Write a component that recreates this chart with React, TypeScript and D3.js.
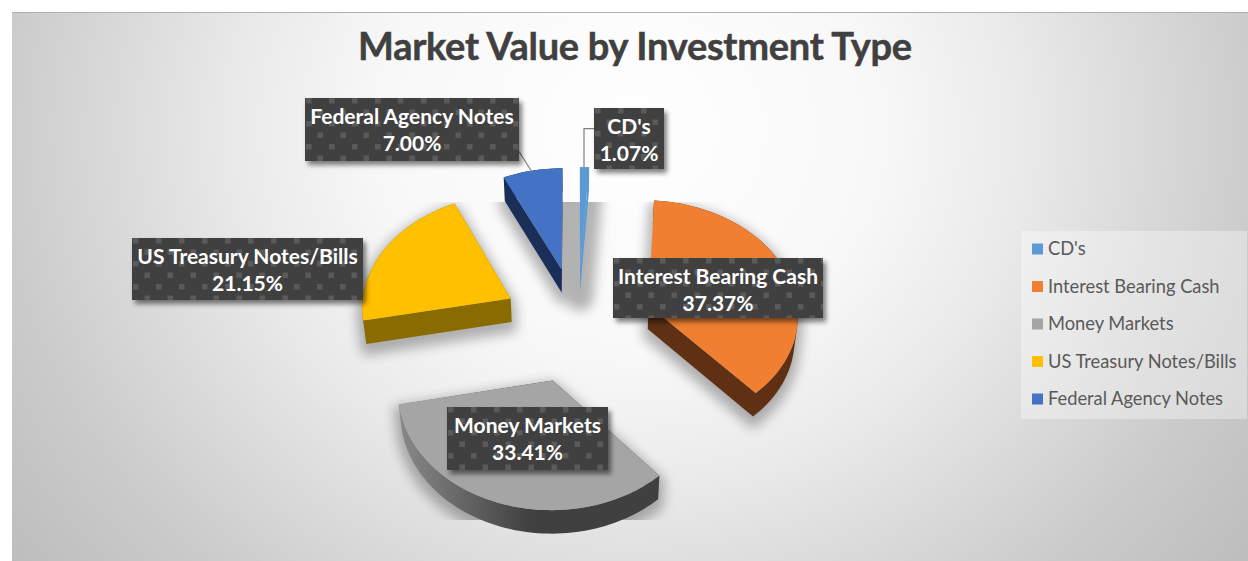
import React from 'react';
import * as d3 from 'd3';

const categories = ["CD's", 'Interest Bearing Cash', 'Money Markets', 'US Treasury Notes/Bills', 'Federal Agency Notes'];
const values = [1.07, 37.37, 33.41, 21.15, 7.0];
const topColors = ['#5b9bd5', '#f07f31', '#a5a5a5', '#ffc000', '#4472c4'];
const sideColors = ['#5b9bd5', '#5f3013', 'url(#moneySide)', '#8a6b00', '#1b2e57'];
const title = 'Market Value by Investment Type';
const labelBoxes = [
  { x: 594, y: 108, w: 70, h: 61 },
  { x: 613, y: 258, w: 210, h: 60 },
  { x: 447, y: 407, w: 161, h: 63 },
  { x: 132, y: 238, w: 231, h: 62 },
  { x: 305, y: 98, w: 214, h: 63 },
];
const paintOrder = [4, 0, 3, 1, 2];

const W = 1248, H = 561;
const cx = 577.6, cy = 324, R = 150, explode = 76, tilt = 0.76, persp = 0.00042, depth = 23.5;

const project = (X: number, Y: number) => {
  const s = 1 / (1 - persp * Y);
  return [cx + X * s, cy + Y * tilt * s] as [number, number];
};
const pieGen = d3.pie<number>().sort(null).value((d) => d);
const arcs = pieGen(values);
const line = d3.line();

const outlines = arcs.map((a) => {
  const mid = (a.startAngle + a.endAngle) / 2;
  const ox = explode * Math.sin(mid), oy = -explode * Math.cos(mid);
  const pts: [number, number][] = [project(ox, oy)];
  const n = Math.max(2, Math.ceil((a.endAngle - a.startAngle) / 0.03));
  d3.range(n + 1).forEach((i) => {
    const t = a.startAngle + ((a.endAngle - a.startAngle) * i) / n;
    pts.push(project(ox + R * Math.sin(t), oy - R * Math.cos(t)));
  });
  return pts;
});
const lower = (p: [number, number]) => [cx + (p[0] - cx) * 0.985, p[1] + depth] as [number, number];
const topPath = (pts: [number, number][]) => line(pts) + 'Z';
// every quad is wound the same way, so one non-zero path gives a seamless union
const sidePath = (pts: [number, number][]) =>
  pts
    .map((p, i) => {
      const q = pts[(i + 1) % pts.length];
      const quad: [number, number][] = [p, q, lower(q), lower(p)];
      return line(d3.polygonArea(quad) < 0 ? quad.slice().reverse() : quad) + 'Z';
    })
    .join('');

const fontBody = 'Lato, Carlito, Calibri, sans-serif';

export default function App() {
  return (
    <svg
      width={W}
      height={H}
      style={{ position: 'absolute', left: 0, top: 0, display: 'block' }}
      viewBox={`0 0 ${W} ${H}`}
    >
      <defs>
        <radialGradient id="bg" gradientUnits="userSpaceOnUse" cx={630} cy={130} r={800}
          gradientTransform="translate(630 130) scale(1 0.91) translate(-630 -130)">
          <stop offset="0" stopColor="#ffffff" />
          <stop offset="0.31" stopColor="#f8f8f8" />
          <stop offset="0.49" stopColor="#eaeaea" />
          <stop offset="0.625" stopColor="#dcdcdc" />
          <stop offset="0.79" stopColor="#cbcbcb" />
          <stop offset="0.975" stopColor="#bdbdbd" />
        </radialGradient>
        <linearGradient id="moneySide" gradientUnits="userSpaceOnUse" x1={397} x2={530} y1={0} y2={0}>
          <stop offset="0" stopColor="#8a8a8a" />
          <stop offset="1" stopColor="#404040" />
        </linearGradient>
        <filter id="softShadow" x="-30%" y="-30%" width="160%" height="160%">
          <feGaussianBlur stdDeviation="6" />
        </filter>
        <filter id="boxShadow" x="-10%" y="-20%" width="120%" height="150%">
          <feGaussianBlur stdDeviation="2.5" />
        </filter>
        <clipPath id="shadowClip">
          <rect x={300} y={202} width={560} height={318} />
        </clipPath>
        {labelBoxes.map((b, i) => (
          <pattern key={i} id={`dots${i}`} patternUnits="userSpaceOnUse" width={23} height={23}
            patternTransform={`translate(${b.x + 1} ${b.y})`}>
            <rect x={0} y={0} width={5.5} height={5.5} fill="#5a5a5a" />
            <rect x={11.5} y={11.5} width={5.5} height={5.5} fill="#5a5a5a" />
          </pattern>
        ))}
      </defs>

      <rect x={12} y={12} width={W - 12} height={H - 12} fill="url(#bg)" />
      <line x1={12} x2={W} y1={12.5} y2={12.5} stroke="#b0b0b0" strokeWidth={1} />

      <text x={635} y={60} textAnchor="middle" fontFamily={fontBody} fontWeight={700} fontSize={38}
        fill="#404040" stroke="#404040" strokeWidth={0.5} textLength={554} lengthAdjust="spacing">{title}</text>

      {/* soft shadows under slices */}
      <g clipPath="url(#shadowClip)">
        <g filter="url(#softShadow)" opacity={0.36}>
          {outlines.map((pts, i) => (
            <g key={i} fill="#333" stroke="#333" strokeWidth={i === 0 ? 26 : 10} strokeLinejoin="round"
              transform="translate(0 6)">
              <path d={topPath(pts)} />
              <path d={sidePath(pts)} />
            </g>
          ))}
        </g>
      </g>

      {/* slices */}
      {paintOrder.map((i) => (
        <g key={i}>
          <path d={sidePath(outlines[i])} fill={sideColors[i]} />
          <path d={topPath(outlines[i])} fill={topColors[i]} />
        </g>
      ))}

      {/* leader lines */}
      <path d="M519,151.5L532,172" fill="none" stroke="#7f7f7f" strokeWidth={1.2} />
      <path d="M594,128.7H584V167" fill="none" stroke="#7f7f7f" strokeWidth={1.2} />

      {/* data labels */}
      {labelBoxes.map((b, i) => (
        <g key={i}>
          <rect x={b.x + 3} y={b.y + 4} width={b.w} height={b.h} fill="#000" opacity={0.5} filter="url(#boxShadow)" />
          <rect x={b.x} y={b.y} width={b.w} height={b.h} fill="#404040" />
          <rect x={b.x} y={b.y} width={b.w} height={b.h} fill={`url(#dots${i})`} />
          <text textAnchor="middle" fontFamily={fontBody} fontWeight={700} fontSize={21} fill="#fff"
            x={b.x + b.w / 2} y={b.y + 26}>{categories[i]}</text>
          <text textAnchor="middle" fontFamily={fontBody} fontWeight={700} fontSize={21} fill="#fff"
            x={b.x + b.w / 2} y={b.y + 53}>{values[i].toFixed(2)}%</text>
        </g>
      ))}

      {/* legend */}
      <rect x={1021} y={231} width={226} height={188} fill="#fff" opacity={0.35} />
      {categories.map((c, i) => (
        <g key={c} transform={`translate(0 ${249 + i * 37.5})`}>
          <rect x={1032} y={-5.5} width={11} height={11} fill={topColors[i]} />
          <text x={1048} y={6} fontFamily={fontBody} fontSize={18.3} fill="#595959">{c}</text>
        </g>
      ))}
    </svg>
  );
}
